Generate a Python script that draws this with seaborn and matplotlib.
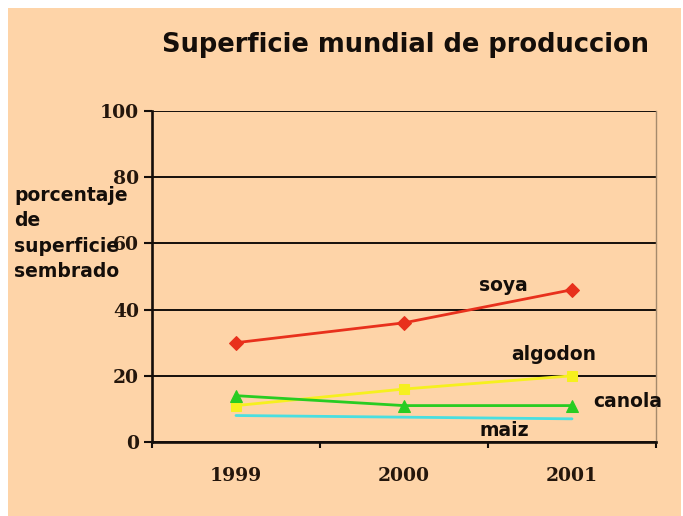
import matplotlib
matplotlib.use("Agg")
import matplotlib.pyplot as plt
import seaborn as sns
from matplotlib.patches import Rectangle

# -----------------------------
# Data
# -----------------------------
years = [1999, 2000, 2001]
soya = [30, 36, 46]
algodon = [11, 16, 20]
canola = [14, 11, 11]
maiz = [8, 7.5, 7]

series_names = ["soya", "algodon", "canola", "maiz"]
y_ticks = [0, 20, 40, 60, 80, 100]

# -----------------------------
# Style
# -----------------------------
sns.set_theme(style="white")
plt.rcParams["font.family"] = ["DejaVu Sans"]

peach = "#FED4A8"
ink = "#140e0a"

fig = plt.figure(figsize=(6.83, 5.16), dpi=100, facecolor="white")
fig.patches.append(Rectangle((8 / 683, 0), 673 / 683, 508 / 516,
                             transform=fig.transFigure, facecolor=peach,
                             edgecolor="none", zorder=-10))

ax = fig.add_axes([152 / 683, 1 - 442 / 516, 504 / 683, 331 / 516])
ax.set_facecolor(peach)

# -----------------------------
# Lines
# -----------------------------
styles = {
    "soya": dict(y=soya, color="#E8301C", marker="D", markersize=7),
    "algodon": dict(y=algodon, color="#F6F01E", marker="s", markersize=7.5),
    "canola": dict(y=canola, color="#28CC22", marker="^", markersize=8),
    "maiz": dict(y=maiz, color="#4ADFE0", marker=None, markersize=0),
}

for name in series_names:
    st = styles[name]
    sns.lineplot(x=years, y=st["y"], color=st["color"], marker=st["marker"],
                 markersize=st["markersize"], markeredgecolor=st["color"],
                 linewidth=2.0, ax=ax, zorder=3)

# series labels
label_pos = {
    "soya": (2000.59, 47.4),
    "algodon": (2000.89, 26.3),
    "canola": (2001.33, 12.1),
    "maiz": (2000.60, 3.6),
}
for name in series_names:
    ax.text(label_pos[name][0], label_pos[name][1], name, ha="center",
            va="center", fontsize=13.5, fontweight="bold", color=ink,
            clip_on=False, zorder=5)

# -----------------------------
# Axes
# -----------------------------
ax.set_xlim(1998.5, 2001.5)
ax.set_ylim(0, 100)
ax.set_xticks([1998.5, 1999.5, 2000.5, 2001.5])
ax.set_xticklabels([])
ax.set_xticks(years, minor=True)
ax.set_xticklabels([str(y) for y in years], minor=True)
ax.set_yticks(y_ticks)
ax.set_yticklabels([str(v) for v in y_ticks])

ax.tick_params(axis="x", which="major", direction="out", length=4.5,
               width=1.5, color=ink, bottom=True)
ax.tick_params(axis="x", which="minor", length=0, pad=18, bottom=True)
ax.tick_params(axis="y", direction="out", length=5.5, width=1.5,
               color=ink, pad=4, left=True)

for lab in ax.get_xticklabels(minor=True) + ax.get_yticklabels():
    lab.set_family("DejaVu Serif")
    lab.set_fontweight("bold")
    lab.set_fontsize(13.5)
    lab.set_color("#24160c")

ax.yaxis.grid(True, color=ink, linewidth=1.4)
ax.xaxis.grid(False)
ax.set_axisbelow(True)

ax.spines["top"].set_visible(False)
ax.spines["right"].set_color("#a58a6c")
ax.spines["right"].set_linewidth(1.0)
for side in ["left", "bottom"]:
    ax.spines[side].set_color(ink)
    ax.spines[side].set_linewidth(1.9)

ax.set_xlabel("")
ax.set_ylabel("")

# -----------------------------
# Titles
# -----------------------------
fig.text(0.593, 0.913, "Superficie mundial de produccion", ha="center",
         va="center", fontsize=18.5, fontweight="bold", color=ink)
fig.text(14 / 683, 1 - 186 / 516, "porcentaje\nde\nsuperficie\nsembrado",
         ha="left", va="top", fontsize=13.5, fontweight="bold", color=ink,
         linespacing=1.42)

fig.savefig("out.png", dpi=100, facecolor=fig.get_facecolor())
